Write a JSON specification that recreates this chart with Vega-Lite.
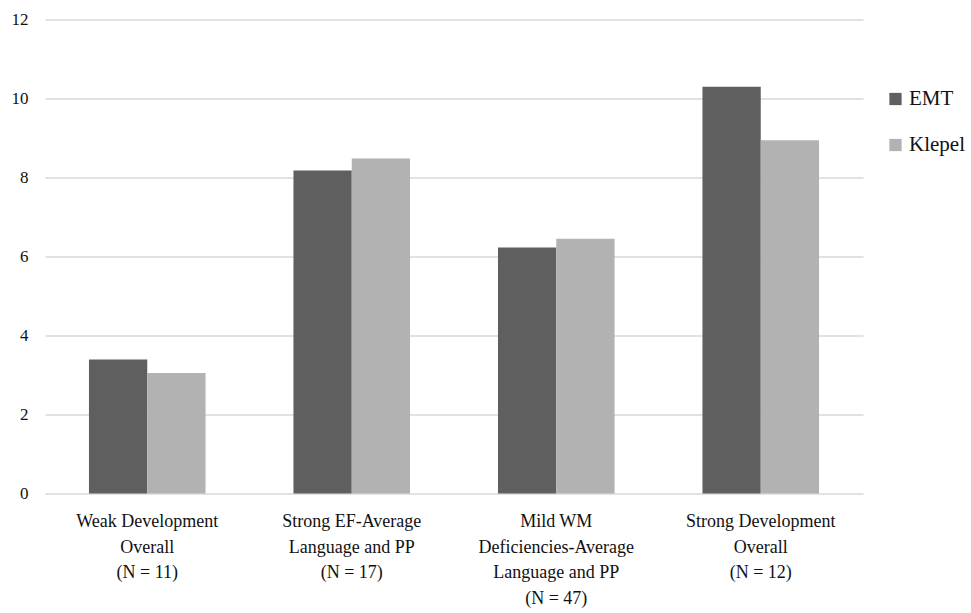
{
  "$schema": "https://vega.github.io/schema/vega-lite/v6.json",
  "width": 818,
  "height": 474,
  "autosize": {"type": "none"},
  "padding": {"left": 45, "top": 19.5, "right": 108, "bottom": 119.5},
  "background": "white",
  "config": {
    "view": {"stroke": null},
    "font": "Liberation Serif",
    "axis": {"labelFont": "Liberation Serif"},
    "legend": {"labelFont": "Liberation Serif"}
  },
  "data": {
    "values": [
      {"group": "Weak Development|Overall|(N = 11)", "method": "EMT", "value": 3.39},
      {"group": "Weak Development|Overall|(N = 11)", "method": "Klepel", "value": 3.05},
      {"group": "Strong EF-Average|Language and PP|(N = 17)", "method": "EMT", "value": 8.18},
      {"group": "Strong EF-Average|Language and PP|(N = 17)", "method": "Klepel", "value": 8.48},
      {"group": "Mild WM|Deficiencies-Average|Language and PP|(N = 47)", "method": "EMT", "value": 6.23},
      {"group": "Mild WM|Deficiencies-Average|Language and PP|(N = 47)", "method": "Klepel", "value": 6.45},
      {"group": "Strong Development|Overall|(N = 12)", "method": "EMT", "value": 10.3},
      {"group": "Strong Development|Overall|(N = 12)", "method": "Klepel", "value": 8.94}
    ]
  },
  "mark": {"type": "bar"},
  "encoding": {
    "x": {
      "field": "group",
      "type": "nominal",
      "sort": null,
      "scale": {"paddingInner": 0.43, "paddingOuter": 0.215},
      "axis": {
        "title": null,
        "labelAngle": 0,
        "domain": false,
        "ticks": false,
        "labelExpr": "split(datum.label, '|')",
        "labelFont": "Liberation Serif",
        "labelFontSize": 18,
        "labelLineHeight": 25.5,
        "labelPadding": 19,
        "labelBaseline": "top",
        "labelColor": "#111111",
        "labelLimit": 250
      }
    },
    "xOffset": {"field": "method", "type": "nominal", "scale": {"paddingInner": 0, "paddingOuter": 0}},
    "y": {
      "field": "value",
      "type": "quantitative",
      "scale": {"domain": [0, 12]},
      "axis": {
        "title": null,
        "values": [0, 2, 4, 6, 8, 10, 12],
        "domain": false,
        "ticks": false,
        "gridColor": "#d9d9d9",
        "gridWidth": 1.5,
        "labelFont": "Liberation Serif",
        "labelFontSize": 17,
        "labelPadding": 17,
        "labelColor": "#111111"
      }
    },
    "color": {
      "field": "method",
      "type": "nominal",
      "scale": {"domain": ["EMT", "Klepel"], "range": ["#5f5f5f", "#b2b2b2"]},
      "legend": {
        "title": null,
        "orient": "none",
        "legendX": 840,
        "legendY": 69,
        "symbolType": "square",
        "symbolSize": 150,
        "labelFont": "Liberation Serif",
        "labelFontSize": 21,
        "labelColor": "#111111",
        "rowPadding": 24,
        "labelOffset": 3
      }
    }
  }
}
